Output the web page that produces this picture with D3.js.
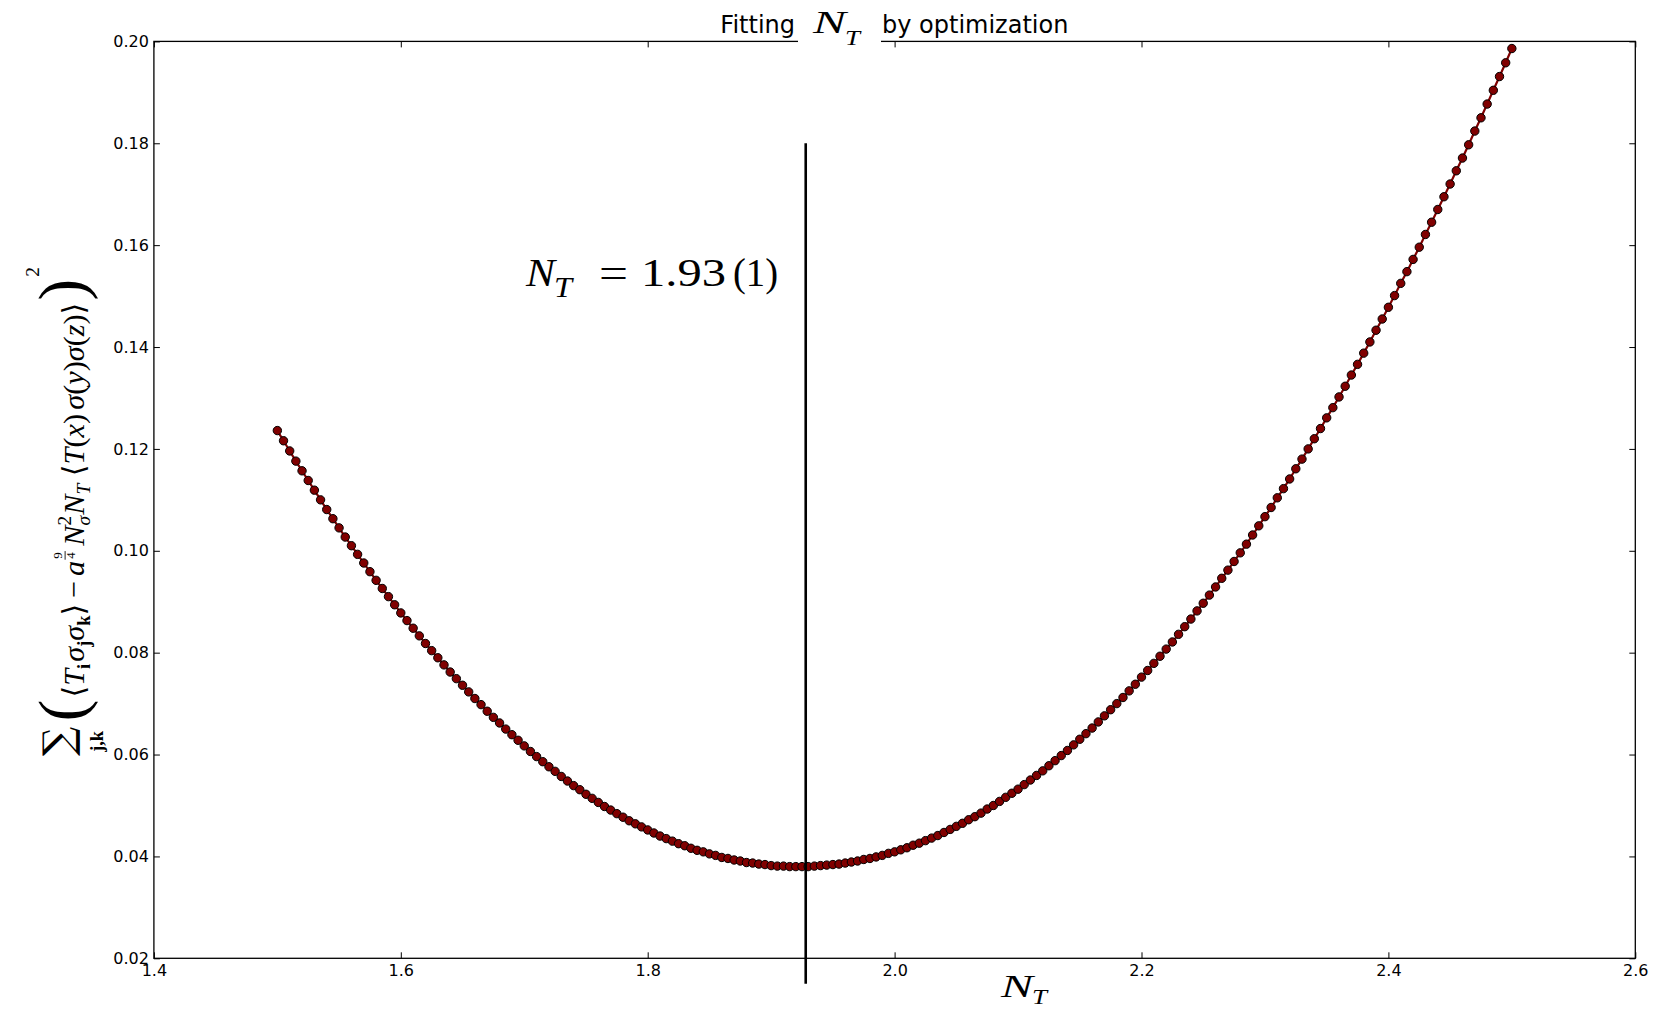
<!DOCTYPE html>
<html><head><meta charset="utf-8">
<script src="https://cdn.jsdelivr.net/npm/d3@7"></script>
<style>
html,body{margin:0;padding:0;background:#fff;}
svg{display:block;}
</style></head><body>
<svg id="chart" width="1664" height="1012"></svg>
<script>
// ---------------- data ----------------
const nTValues = [
1.500,1.505,1.510,1.515,1.520,1.525,1.530,1.535,1.540,1.545,1.550,1.555,1.560,1.565,1.570,1.575,1.580,1.585,1.590,1.595,
1.600,1.605,1.610,1.615,1.620,1.625,1.630,1.635,1.640,1.645,1.650,1.655,1.660,1.665,1.670,1.675,1.680,1.685,1.690,1.695,
1.700,1.705,1.710,1.715,1.720,1.725,1.730,1.735,1.740,1.745,1.750,1.755,1.760,1.765,1.770,1.775,1.780,1.785,1.790,1.795,
1.800,1.805,1.810,1.815,1.820,1.825,1.830,1.835,1.840,1.845,1.850,1.855,1.860,1.865,1.870,1.875,1.880,1.885,1.890,1.895,
1.900,1.905,1.910,1.915,1.920,1.925,1.930,1.935,1.940,1.945,1.950,1.955,1.960,1.965,1.970,1.975,1.980,1.985,1.990,1.995,
2.000,2.005,2.010,2.015,2.020,2.025,2.030,2.035,2.040,2.045,2.050,2.055,2.060,2.065,2.070,2.075,2.080,2.085,2.090,2.095,
2.100,2.105,2.110,2.115,2.120,2.125,2.130,2.135,2.140,2.145,2.150,2.155,2.160,2.165,2.170,2.175,2.180,2.185,2.190,2.195,
2.200,2.205,2.210,2.215,2.220,2.225,2.230,2.235,2.240,2.245,2.250,2.255,2.260,2.265,2.270,2.275,2.280,2.285,2.290,2.295,
2.300,2.305,2.310,2.315,2.320,2.325,2.330,2.335,2.340,2.345,2.350,2.355,2.360,2.365,2.370,2.375,2.380,2.385,2.390,2.395,
2.400,2.405,2.410,2.415,2.420,2.425,2.430,2.435,2.440,2.445,2.450,2.455,2.460,2.465,2.470,2.475,2.480,2.485,2.490,2.495,
2.500];

const residuals = [
0.1236,0.1216,0.1196,0.1176,0.1157,0.1138,0.1119,0.1100,0.1081,0.1063,0.1045,0.1027,0.1010,0.0993,0.0976,0.0959,0.0942,0.0926,0.0910,0.0894,
0.0878,0.0863,0.0848,0.0833,0.0818,0.0804,0.0790,0.0776,0.0762,0.0749,0.0736,0.0723,0.0710,0.0698,0.0685,0.0673,0.0662,0.0650,0.0639,0.0628,
0.0617,0.0606,0.0596,0.0586,0.0576,0.0567,0.0557,0.0548,0.0539,0.0531,0.0522,0.0514,0.0506,0.0498,0.0491,0.0484,0.0477,0.0470,0.0464,0.0458,
0.0452,0.0446,0.0440,0.0435,0.0430,0.0425,0.0421,0.0416,0.0412,0.0409,0.0405,0.0402,0.0398,0.0396,0.0393,0.0391,0.0388,0.0387,0.0385,0.0384,
0.0382,0.0381,0.0381,0.0380,0.0380,0.0380,0.0380,0.0381,0.0382,0.0383,0.0384,0.0385,0.0387,0.0389,0.0391,0.0394,0.0396,0.0399,0.0402,0.0406,
0.0409,0.0413,0.0417,0.0422,0.0426,0.0431,0.0436,0.0441,0.0447,0.0453,0.0459,0.0465,0.0472,0.0478,0.0485,0.0493,0.0500,0.0508,0.0516,0.0524,
0.0532,0.0541,0.0550,0.0559,0.0568,0.0578,0.0588,0.0598,0.0608,0.0619,0.0630,0.0641,0.0652,0.0664,0.0676,0.0688,0.0700,0.0712,0.0725,0.0738,
0.0752,0.0765,0.0779,0.0793,0.0807,0.0821,0.0836,0.0851,0.0866,0.0882,0.0897,0.0913,0.0929,0.0946,0.0962,0.0979,0.0996,0.1013,0.1031,0.1049,
0.1067,0.1085,0.1104,0.1122,0.1141,0.1161,0.1180,0.1200,0.1220,0.1240,0.1261,0.1281,0.1302,0.1323,0.1345,0.1366,0.1388,0.1410,0.1433,0.1455,
0.1478,0.1501,0.1525,0.1548,0.1572,0.1596,0.1621,0.1645,0.1670,0.1695,0.1720,0.1746,0.1771,0.1797,0.1824,0.1850,0.1877,0.1904,0.1931,0.1958,
0.1986];

const xTicks = [1.4, 1.6, 1.8, 2.0, 2.2, 2.4, 2.6];
const xTickLabels = ["1.4", "1.6", "1.8", "2.0", "2.2", "2.4", "2.6"];
const yTicks = [0.02, 0.04, 0.06, 0.08, 0.10, 0.12, 0.14, 0.16, 0.18, 0.20];
const yTickLabels = ["0.02", "0.04", "0.06", "0.08", "0.10", "0.12", "0.14", "0.16", "0.18", "0.20"];

const fitNT = 1.928;              // vertical marker
const fitLineSpan = [0.015, 0.18];
const titleLeft = "Fitting";
const titleRight = "by optimization";
const annotationValue = "1.93";
const annotationError = "(1)";

// ---------------- drawing ----------------
const W = 1664, H = 1012;
const plot = {left: 153.9, right: 1635.3, top: 41.4, bottom: 958.3};
const sans = "'DejaVu Sans', sans-serif";
const serif = "'Liberation Serif', 'DejaVu Serif', serif";

const svg = d3.select("#chart");
svg.append("rect").attr("width", W).attr("height", H).attr("fill", "#fff");

const x = d3.scaleLinear().domain([xTicks[0], xTicks[xTicks.length - 1]]).range([plot.left, plot.right]);
const y = d3.scaleLinear().domain([yTicks[0], yTicks[yTicks.length - 1]]).range([plot.bottom, plot.top]);

// axes (ticks inward on all four sides)
function styleAxis(g) {
  g.select(".domain").remove();
  g.attr("font-size", 16).attr("font-family", sans);
  g.selectAll("line").attr("stroke", "#000").attr("stroke-width", 1);
  g.selectAll("text").attr("fill", "#000");
}
svg.append("g").attr("transform", `translate(0,${plot.bottom})`)
  .call(d3.axisBottom(x).tickValues(xTicks).tickFormat((d, i) => xTickLabels[i]).tickSize(-6).tickSizeOuter(0).tickPadding(6.5))
  .call(styleAxis);
svg.append("g").attr("transform", `translate(0,${plot.top})`)
  .call(d3.axisTop(x).tickValues(xTicks).tickFormat("").tickSize(-6).tickSizeOuter(0))
  .call(styleAxis);
svg.append("g").attr("transform", `translate(${plot.left},0)`)
  .call(d3.axisLeft(y).tickValues(yTicks).tickFormat((d, i) => yTickLabels[i]).tickSize(-6).tickSizeOuter(0).tickPadding(5))
  .call(styleAxis);
svg.append("g").attr("transform", `translate(${plot.right},0)`)
  .call(d3.axisRight(y).tickValues(yTicks).tickFormat("").tickSize(-6).tickSizeOuter(0))
  .call(styleAxis);

// frame
svg.append("rect")
  .attr("x", plot.left).attr("y", plot.top)
  .attr("width", plot.right - plot.left).attr("height", plot.bottom - plot.top)
  .attr("fill", "none").attr("stroke", "#000").attr("stroke-width", 1.3);

// series
const pts = nTValues.map((v, i) => [v, residuals[i]]);
svg.append("path").datum(pts)
  .attr("d", d3.line().x(d => x(d[0])).y(d => y(d[1])))
  .attr("fill", "none").attr("stroke", "#800000").attr("stroke-width", 2.2);
svg.append("g").selectAll("circle").data(pts).join("circle")
  .attr("cx", d => x(d[0])).attr("cy", d => y(d[1])).attr("r", 4.2)
  .attr("fill", "#800000").attr("stroke", "#000").attr("stroke-width", 1);

// vertical line at the fitted value
svg.append("line")
  .attr("x1", x(fitNT)).attr("x2", x(fitNT))
  .attr("y1", y(fitLineSpan[0])).attr("y2", y(fitLineSpan[1]))
  .attr("stroke", "#000").attr("stroke-width", 2.6);

// helper: italic N with subscript T
function mathNT(parent, nx, base, size, nWidth, subSize, subDy, subWidth) {
  parent.append("text").attr("x", nx).attr("y", base)
    .attr("font-family", serif).attr("font-style", "italic").attr("font-size", size)
    .attr("textLength", nWidth).attr("lengthAdjust", "spacingAndGlyphs").attr("fill", "#000").text("N");
  parent.append("text").attr("x", nx + nWidth - 1).attr("y", base + subDy)
    .attr("font-family", serif).attr("font-style", "italic").attr("font-size", subSize)
    .attr("textLength", subWidth).attr("lengthAdjust", "spacingAndGlyphs").attr("fill", "#000").text("T");
}

// title
svg.append("rect").attr("x", 798).attr("y", 34).attr("width", 83).attr("height", 12).attr("fill", "#fff");
svg.append("text").attr("x", 795).attr("y", 33).attr("text-anchor", "end")
  .attr("font-family", sans).attr("font-size", 24).attr("fill", "#000").text(titleLeft);
svg.append("text").attr("x", 882).attr("y", 33)
  .attr("font-family", sans).attr("font-size", 24).attr("fill", "#000").text(titleRight);
mathNT(svg, 813, 33, 31, 33, 22, 12, 15);

// x label
mathNT(svg, 1001, 997, 31, 32, 22, 7, 15);

// annotation  N_T = 1.93 (1)
mathNT(svg, 526, 286, 41, 29, 29, 11, 18);
svg.append("text").attr("x", 599).attr("y", 287).attr("font-family", serif).attr("font-size", 42)
  .attr("textLength", 29).attr("lengthAdjust", "spacingAndGlyphs").attr("fill", "#000").text("=");
svg.append("text").attr("x", 641).attr("y", 286).attr("font-family", serif).attr("font-size", 41)
  .attr("textLength", 85).attr("lengthAdjust", "spacingAndGlyphs").attr("fill", "#000").text(annotationValue);
svg.append("text").attr("x", 733).attr("y", 286).attr("font-family", serif).attr("font-size", 41)
  .attr("textLength", 45).attr("lengthAdjust", "spacingAndGlyphs").attr("fill", "#000").text(annotationError);

// y label (rotated math)
const ylab = svg.append("g");
const inner = ylab.append("g");
let cx = 0;
function piece(t, o = {}) {
  const el = inner.append("text").attr("x", cx + (o.dx || 0)).attr("y", o.y || 0)
    .attr("font-family", o.fam || serif).attr("font-size", o.size || 28)
    .attr("font-style", o.it ? "italic" : "normal").attr("font-weight", o.bold ? "bold" : "normal")
    .attr("fill", "#000").text(t);
  if (o.anchor) el.attr("text-anchor", o.anchor);
  const w = el.node().getComputedTextLength();
  if (!o.hold) cx += w + (o.dx || 0) + (o.after || 0);
  return w;
}
const sumW = piece("\u2211", {size: 38, y: -11, fam: "'DejaVu Serif', serif", hold: true});
inner.append("text").attr("x", cx + sumW / 2).attr("y", 18).attr("text-anchor", "middle")
  .attr("font-family", serif).attr("font-weight", "bold").attr("font-size", 17).attr("fill", "#000").text("j,k");
cx += sumW + 5;
piece("(", {size: 60, after: 2});
piece("\u27E8", {fam: "'DejaVu Serif','DejaVu Sans',serif"});
piece("T", {it: true});
piece("i", {bold: true, size: 17, y: 6, after: 2});
piece("\u03C3", {it: true});
piece("j", {bold: true, size: 17, y: 6});
piece("\u03C3", {it: true});
piece("k", {bold: true, size: 17, y: 6});
piece("\u27E9", {fam: "'DejaVu Serif','DejaVu Sans',serif", after: 5});
piece("\u2212", {after: 5});
piece("a", {it: true, after: 1});
{
  const fx = cx;
  inner.append("text").attr("x", fx + 4).attr("y", -20).attr("text-anchor", "middle")
    .attr("font-family", serif).attr("font-size", 12).attr("fill", "#000").text("9");
  inner.append("line").attr("x1", fx).attr("x2", fx + 8).attr("y1", -17.5).attr("y2", -17.5)
    .attr("stroke", "#000").attr("stroke-width", 0.8);
  inner.append("text").attr("x", fx + 4).attr("y", -8).attr("text-anchor", "middle")
    .attr("font-family", serif).attr("font-size", 12).attr("fill", "#000").text("4");
  cx += 13;
}
piece("N", {it: true});
piece("\u03C3", {it: true, size: 18, y: 6, hold: true});
piece("2", {size: 18, y: -12, after: 1});
piece("N", {it: true});
piece("T", {it: true, size: 18, y: 6, after: 7});
piece("\u27E8", {fam: "'DejaVu Serif','DejaVu Sans',serif"});
piece("T", {it: true});
piece("(");
piece("x", {it: true});
piece(")", {after: 4});
piece("\u03C3", {it: true});
piece("(");
piece("y", {it: true});
piece(")");
piece("\u03C3", {it: true});
piece("(");
piece("z", {it: true});
piece(")");
piece("\u27E9", {fam: "'DejaVu Serif','DejaVu Sans',serif", after: 2});
piece(")", {size: 60, after: 2});
piece("2", {size: 18, y: -42});

const bb = inner.node().getBBox();
const s = 489 / bb.width;
ylab.attr("transform", `translate(84,${756 + s * bb.x}) rotate(-90) scale(${s})`);
</script>
</body></html>
